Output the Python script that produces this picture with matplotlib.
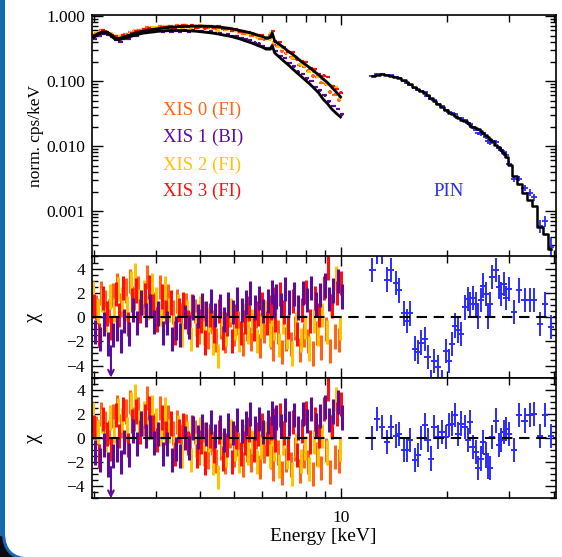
import numpy as np
import matplotlib
matplotlib.use('Agg')
import matplotlib.pyplot as plt
from matplotlib.patches import Rectangle, FancyBboxPatch
from matplotlib.ticker import FixedLocator, NullFormatter, FuncFormatter, MultipleLocator, LogLocator

# XIS bins (keV)
xis_energy = [2.00, 2.06, 2.12, 2.18, 2.24, 2.30, 2.36, 2.42, 2.49, 2.56,
              2.63, 2.70, 2.78, 2.86, 2.94, 3.02, 3.11, 3.20, 3.29, 3.38,
              3.48, 3.58, 3.68, 3.79, 3.90, 4.01, 4.13, 4.25, 4.37, 4.50,
              4.63, 4.76, 4.90, 5.04, 5.19, 5.34, 5.49, 5.65, 5.81, 5.98,
              6.15, 6.33, 6.40, 6.51, 6.70, 6.89, 7.09, 7.30, 7.51, 7.73,
              7.95, 8.18, 8.42, 8.66, 8.91, 9.17, 9.44, 9.71, 9.99]

# model curves (norm. cps/keV)
fi_model = [0.49, 0.54, 0.57, 0.57, 0.52, 0.46, 0.45, 0.47, 0.50, 0.52,
            0.55, 0.57, 0.59, 0.61, 0.62, 0.635, 0.65, 0.66, 0.67, 0.68,
            0.685, 0.69, 0.695, 0.70, 0.70, 0.70, 0.70, 0.695, 0.69, 0.68,
            0.67, 0.655, 0.64, 0.62, 0.60, 0.58, 0.56, 0.54, 0.51, 0.49,
            0.46, 0.47, 0.55, 0.41, 0.37, 0.33, 0.29, 0.26, 0.23, 0.20,
            0.18, 0.16, 0.14, 0.125, 0.108, 0.095, 0.08, 0.068, 0.057]
bi_model = [0.47, 0.52, 0.55, 0.55, 0.50, 0.44, 0.43, 0.45, 0.47, 0.49,
            0.51, 0.53, 0.55, 0.56, 0.57, 0.58, 0.59, 0.595, 0.60, 0.60,
            0.60, 0.60, 0.595, 0.59, 0.585, 0.575, 0.565, 0.555, 0.545, 0.53,
            0.515, 0.50, 0.485, 0.465, 0.445, 0.42, 0.40, 0.38, 0.355, 0.335,
            0.31, 0.31, 0.35, 0.27, 0.235, 0.205, 0.18, 0.155, 0.135, 0.118,
            0.103, 0.09, 0.077, 0.066, 0.053, 0.045, 0.037, 0.032, 0.028]
xis_relerr = [0.035, 0.035, 0.035, 0.035, 0.035, 0.035, 0.035, 0.035, 0.035, 0.035,
              0.035, 0.035, 0.035, 0.035, 0.035, 0.035, 0.035, 0.035, 0.035, 0.035,
              0.036, 0.036, 0.036, 0.036, 0.036, 0.037, 0.037, 0.037, 0.037, 0.037,
              0.038, 0.038, 0.038, 0.039, 0.039, 0.039, 0.040, 0.040, 0.041, 0.041,
              0.042, 0.042, 0.042, 0.043, 0.043, 0.044, 0.044, 0.045, 0.045, 0.046,
              0.047, 0.048, 0.049, 0.050, 0.051, 0.052, 0.054, 0.056, 0.058]

# residuals (chi) per detector
xis0_chi = [1.5, 0.8, 2.0, 1.2, 0.5, 1.8, 2.6, 1.0, 2.2, 3.0,
            1.6, 2.4, 1.2, 3.3, 2.0, 1.1, 2.5, 0.9, 1.7, 0.4,
            1.3, 0.2, 1.0, -0.6, 0.5, -1.2, 0.3, -1.6, -0.4, -1.9,
            -0.8, -2.0, 0.2, -1.4, -0.5, -2.2, -1.0, -1.8, 0.1, -2.4,
            -1.1, -0.3, -1.6, -2.6, -1.2, -2.9, -1.8, -2.2, -0.9, -2.7,
            -1.5, -2.0, -3.0, -1.3, -2.5, -1.0, -2.8, -1.6, -1.9]
xis1_chi = [-1.2, -1.8, -0.6, -2.2, -1.5, -1.0, -2.0, -0.3, -1.4, 0.6,
            -0.5, 1.2, 0.2, 0.9, -0.4, 0.3, -1.3, -0.5, -1.8, -0.9,
            -1.5, 0.0, -0.8, 0.8, 0.1, 1.0, 0.3, 1.3, 0.2, 0.9,
            -0.2, 1.1, 0.4, 1.5, 0.6, 1.2, 2.0, 0.8, 1.6, 0.5,
            1.3, 2.1, 0.9, 1.7, 1.0, 2.3, 1.2, 1.9, 0.8, 2.0,
            1.4, 2.4, 1.1, 1.8, 2.6, 1.5, 2.2, 3.0, 1.7]
xis2_chi = [2.0, 0.5, 1.4, -0.2, 1.7, 0.6, 2.3, 1.5, 0.7, 2.8,
            3.5, 1.3, 2.1, 0.8, 2.6, 1.5, 0.3, 2.4, 0.6, -0.8,
            0.9, -1.5, 0.4, -1.8, -0.6, 0.7, -1.3, -0.2, -2.1, -3.2,
            -0.5, -1.4, 0.6, -0.9, -1.9, 0.2, -1.2, -0.3, -2.0, -0.7,
            0.4, -1.5, 0.3, -0.9, -2.3, -0.4, -1.6, -3.0, -0.6, -1.9,
            -0.8, -2.6, -0.3, -1.4, 0.2, -1.2, 1.0, 3.2, -0.9]
xis3_chi = [0.9, -1.5, 1.6, 0.3, -0.9, 1.9, 0.2, 2.4, -0.6, 1.4,
            2.2, 0.5, 1.8, 2.5, 0.9, -0.2, 1.7, 0.4, 1.2, -1.3,
            0.6, 1.1, -0.4, 0.9, -1.5, -0.3, -2.1, 0.2, -1.1, 0.5,
            -1.7, -0.6, -2.0, 0.1, -1.3, -0.4, 0.7, -1.0, 0.3, 1.1,
            -0.5, 0.8, 1.5, -0.2, 1.9, 0.4, -0.8, 1.3, -1.4, 0.6,
            2.1, -0.3, 1.6, 0.2, 2.4, 4.1, 0.9, 2.0, 2.8]
xis1_limit_energy = 2.24   # XIS 1 point off the bottom (arrow)

# PIN
pin_energy = [12.3, 12.7, 13.1, 13.5, 13.9, 14.3, 14.6, 15.1, 15.4, 15.7,
              16.2, 16.5, 16.9, 17.3, 17.6, 18.0, 18.4, 18.8, 19.3, 19.9,
              20.3, 20.7, 21.1, 21.5, 21.9, 22.5, 22.9, 23.2, 23.6, 24.2,
              24.5, 25.0, 25.2, 25.7, 26.1, 26.4, 26.8, 27.5, 28.0, 28.4,
              28.9, 29.4, 29.9, 31.0, 32.0, 33.1, 34.2, 35.3, 36.7, 37.9,
              39.4]
pin_model = [0.121, 0.125, 0.127, 0.125, 0.120, 0.115, 0.110, 0.103, 0.096, 0.089,
             0.082, 0.076, 0.071, 0.065, 0.060, 0.055, 0.050, 0.045, 0.040, 0.036,
             0.032, 0.031, 0.029, 0.027, 0.0255, 0.024, 0.0225, 0.021, 0.020, 0.0188,
             0.018, 0.0168, 0.016, 0.0148, 0.0138, 0.013, 0.012, 0.0105, 0.0097, 0.0088,
             0.0078, 0.0068, 0.0052, 0.0035, 0.0026, 0.0019, 0.0015, 0.0012, 0.00057, 0.00045,
             0.00026]
pin_relerr = [0.025, 0.025, 0.025, 0.025, 0.025, 0.025, 0.025, 0.026, 0.026, 0.027,
              0.028, 0.028, 0.029, 0.030, 0.030, 0.031, 0.032, 0.033, 0.034, 0.035,
              0.036, 0.037, 0.038, 0.039, 0.040, 0.042, 0.043, 0.044, 0.046, 0.048,
              0.050, 0.052, 0.054, 0.056, 0.058, 0.060, 0.062, 0.066, 0.070, 0.074,
              0.078, 0.082, 0.088, 0.10, 0.11, 0.13, 0.15, 0.18, 0.23, 0.29,
              0.40]
pin_chi_a = [3.9, 5.4, 5.4, 3.1, 3.9, 2.8, 2.2, 0.3, -0.3, 0.3,
             -2.6, -2.9, -2.1, -1.8, -3.3, -5.4, -3.6, -4.1, -5.4, -2.8,
             -3.6, -2.2, -0.7, -1.1, -1.4, 0.8, 1.5, 1.1, 1.6, 1.1,
             0.0, 1.4, 2.6, 1.9, 0.0, 1.1, 3.3, 3.9, 2.5, 1.9,
             2.7, 1.6, 2.3, 0.4, 2.2, 1.4, 1.4, 1.4, -0.55, 1.1,
             -0.8]
pin_chi_b = [0.0, 1.6, 0.9, -0.3, 0.9, 0.2, 0.35, -1.0, -1.0, -0.2,
             -1.85, -1.4, 0.0, 1.05, -0.2, -1.7, 0.9, 0.1, 0.5, 0.1,
             1.05, 1.2, 1.9, 0.35, 1.2, 0.9, -0.2, 1.3, -0.75, -1.15,
             -2.5, -1.7, -0.3, -1.3, -2.4, -2.5, 0.1, 1.45, -0.6, -0.2,
             0.5, 0.75, 0.35, -1.0, 1.9, 1.45, 1.9, 2.0, 0.2, 1.9,
             0.2]

labels = ['XIS 0 (FI)', 'XIS 1 (BI)', 'XIS 2 (FI)', 'XIS 3 (FI)']
colors = ['#ff6418', '#5c0c9c', '#ffc400', '#ff1010']
pin_color = '#2b2bff'

plt.rcParams['font.family'] = ['Liberation Serif', 'DejaVu Serif']
plt.rcParams['font.size'] = 12

W, H = 562, 557
fig = plt.figure(figsize=(W / 100, H / 100), dpi=100)

# slide-style frame on the left / bottom-left corner
fig.patches.append(Rectangle((0, 0), 40 / W, 30 / H, transform=fig.transFigure,
                             color='#0b0b14', zorder=-10))
fig.patches.append(Rectangle((0, 22 / H), 4 / W, 1, transform=fig.transFigure,
                             color='#1767b3', zorder=-9))
fig.patches.append(FancyBboxPatch((3.5 / W, -2 / H), 1.2, 1.2, transform=fig.transFigure,
                                  boxstyle='round,pad=0,rounding_size=0.047',
                                  fc='white', ec='#1767b3', lw=2.2, zorder=-8))

left, width = 92 / W, 463.5 / W
ax0 = fig.add_axes([left, 1 - 256.5 / H, width, 241.8 / H])
ax1 = fig.add_axes([left, 1 - 377.7 / H, width, 121.2 / H])
ax2 = fig.add_axes([left, 1 - 498.3 / H, width, 120.6 / H])

xe = np.array(xis_energy)
pe = np.array(pin_energy)
chis = [xis0_chi, xis1_chi, xis2_chi, xis3_chi]
models = [fi_model, bi_model, fi_model, fi_model]
dodge = [-1.5, 1.5, -0.5, 0.5]   # small display shift so detectors interleave

# top panel
for i in [1, 0, 2, 3]:
    m = np.array(models[i])
    err = m * np.array(xis_relerr)
    y = m + np.array(chis[i]) * err
    ax0.errorbar(xe * 10 ** (dodge[i] * 0.003), y, yerr=err, xerr=xe * 0.014, fmt='none',
                 ecolor=colors[i], elinewidth=1.6, capsize=0)
ax0.plot(xe, fi_model, color='k', lw=2.0, zorder=5)
ax0.plot(xe, bi_model, color='k', lw=2.0, zorder=5)

pm = np.array(pin_model)
perr = pm * np.array(pin_relerr)
ax0.errorbar(pe, pm + np.array(pin_chi_b) * perr, yerr=perr, xerr=pe * 0.02,
             fmt='none', ecolor=pin_color, elinewidth=1.3, capsize=0)
ax0.step(pe, pm, where='mid', color='k', lw=1.8, zorder=5)

ax0.set_yscale('log')
ax0.set_ylim(2e-4, 1.05)
ax0.yaxis.set_major_locator(FixedLocator([1e-3, 1e-2, 1e-1, 1.0]))
ax0.yaxis.set_major_formatter(FuncFormatter(lambda v, p: '%.3f' % v))
ax0.yaxis.set_minor_locator(LogLocator(base=10, subs=np.arange(2, 10)))
ax0.yaxis.set_minor_formatter(NullFormatter())
ax0.set_ylabel('norm. cps/keV', fontsize=12.5)
ax0.yaxis.set_label_coords(-0.103, 0.5)

ytxt = [0.606, 0.491, 0.378, 0.268]
for lab, c, yy in zip(labels, colors, ytxt):
    ax0.text(0.1525, yy, lab, color=c, fontsize=13.5, transform=ax0.transAxes,
             ha='left', va='center')
ax0.text(0.736, 0.268, 'PIN', color=pin_color, fontsize=13.5, transform=ax0.transAxes,
         ha='left', va='center')

# residual panels (XIS residuals identical in both)
for ax, pin_chi in [(ax1, pin_chi_a), (ax2, pin_chi_b)]:
    for i in [0, 2, 3, 1]:
        ax.errorbar(xe * 10 ** (dodge[i] * 0.003), chis[i], yerr=1, fmt='none',
                    ecolor=colors[i], elinewidth=2.2, capsize=0)
    ax.errorbar(pe, pin_chi, yerr=1, xerr=pe * 0.02, fmt='none',
                ecolor=pin_color, elinewidth=1.4, capsize=0)
    ax.annotate('', xy=(xis1_limit_energy, -5.0), xytext=(xis1_limit_energy, -2.4),
                arrowprops=dict(arrowstyle='->', color=colors[1], lw=1.5,
                                mutation_scale=10, shrinkA=0, shrinkB=0))
    ax.axhline(0, color='k', ls=(0, (5, 3.2)), lw=1.5, zorder=6)
    ax.set_ylim(-5, 5)
    ax.yaxis.set_major_locator(MultipleLocator(2))
    ax.yaxis.set_minor_locator(MultipleLocator(0.5))
    ax.set_ylabel('χ', fontsize=15)
    ax.yaxis.set_label_coords(-0.105, 0.5)

for ax in (ax0, ax1, ax2):
    ax.set_xscale('log')
    ax.set_xlim(1.98, 40.5)
    ax.xaxis.set_major_locator(FixedLocator([10]))
    ax.xaxis.set_minor_locator(FixedLocator([2, 3, 4, 5, 6, 7, 8, 9, 20, 30, 40]))
    ax.xaxis.set_minor_formatter(NullFormatter())
    ax.tick_params(which='both', direction='in', top=True, right=True, width=1, labelsize=12.5)
    ax.tick_params(axis='y', which='major', length=8, pad=5)
    ax.tick_params(axis='y', which='minor', length=4)
    ax.tick_params(axis='x', which='major', length=7, pad=8.5)
    ax.tick_params(axis='x', which='minor', length=5)
    for s in ax.spines.values():
        s.set_linewidth(1.2)
    if ax is not ax2:
        ax.xaxis.set_major_formatter(NullFormatter())

ax2.xaxis.set_major_formatter(FuncFormatter(lambda v, p: '%d' % v))
ax2.set_xlabel('Energy [keV]', fontsize=14)
ax2.xaxis.set_label_coords(0.5, -0.245)

fig.savefig('out.png', dpi=100)
